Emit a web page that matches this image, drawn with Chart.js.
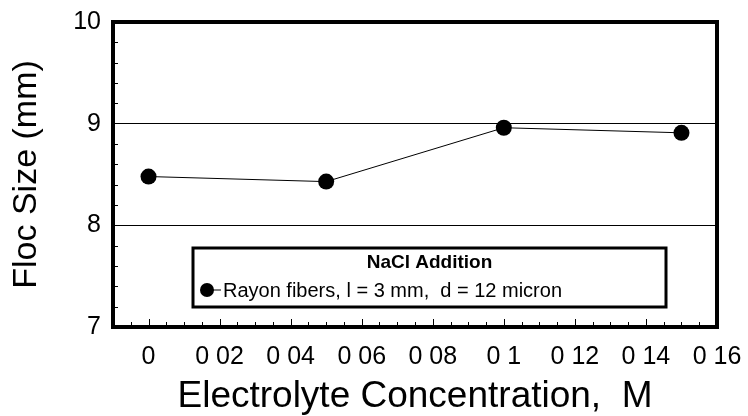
<!DOCTYPE html>
<html>
<head>
<meta charset="utf-8">
<title>Floc Size vs Electrolyte Concentration</title>
<script src="https://cdn.jsdelivr.net/npm/chart.js@4.4.1/dist/chart.umd.min.js"></script>
<style>
  html, body { margin: 0; padding: 0; background: #fff; }
  #wrap { width: 748px; height: 416px; }
</style>
</head>
<body>
<div id="wrap"><canvas id="flocChart" width="748" height="416"></canvas></div>
<script>
// Data
const concentration = [0, 0.05, 0.1, 0.15];
const flocSize = [8.48, 8.43, 8.96, 8.91];

const xTickValues = [0, 0.02, 0.04, 0.06, 0.08, 0.1, 0.12, 0.14, 0.16];
const xTickLabels = ['0', '0 02', '0 04', '0 06', '0 08', '0 1', '0 12', '0 14', '0 16'];
const yTickValues = [7, 8, 9, 10];
const yTickLabels = ['7', '8', '9', '10'];
const yGridValues = [8, 9];

const seriesLabel = 'Rayon fibers, l = 3 mm,  d = 12 micron';
const legendTitle = 'NaCl Addition';

Chart.defaults.font.family = "'Liberation Sans', Arial, Helvetica, sans-serif";
Chart.defaults.color = '#000';

/**
 * Рамка графика и короткие внутренние деления осей
 */
const frameAndTicks = {
  id: 'frameAndTicks',
  afterDatasetsDraw(chart) {
    const { ctx, chartArea: a, scales } = chart;
    const x = scales.x, y = scales.y;
    ctx.save();
    ctx.strokeStyle = '#000';

    // деления по оси X, каждые 0.005
    ctx.lineWidth = 1;
    ctx.beginPath();
    for (let i = Math.ceil(x.min / 0.005); i * 0.005 <= x.max + 1e-9; i++) {
      const px = Math.round(x.getPixelForValue(i * 0.005)) + 0.5;
      const len = (i % 4 === 0) ? 8 : 5;
      ctx.moveTo(px, a.bottom);
      ctx.lineTo(px, a.bottom - len);
    }
    // деления по оси Y, каждые 0.2
    for (let i = Math.ceil(y.min / 0.2); i * 0.2 <= y.max + 1e-9; i++) {
      if (i % 5 === 0) continue;
      const py = Math.round(y.getPixelForValue(i * 0.2)) + 0.5;
      ctx.moveTo(a.left, py);
      ctx.lineTo(a.left + 5, py);
    }
    ctx.stroke();

    ctx.lineWidth = 4;
    ctx.strokeRect(a.left, a.top, a.right - a.left, a.bottom - a.top);
    ctx.restore();
  }
};

/**
 * Легенда в рамке внутри области графика
 */
const boxedLegend = {
  id: 'boxedLegend',
  afterDraw(chart) {
    const { ctx, chartArea: a } = chart;
    const ds = chart.data.datasets[0];
    const left = a.left + 80, top = a.top + 226, w = 473, h = 59;
    ctx.save();
    ctx.fillStyle = '#fff';
    ctx.fillRect(left, top, w, h);
    ctx.strokeStyle = '#000';
    ctx.lineWidth = 3;
    ctx.strokeRect(left, top, w, h);

    ctx.fillStyle = '#000';
    ctx.textBaseline = 'middle';
    ctx.textAlign = 'center';
    ctx.font = "bold 19px 'Liberation Sans', Arial, sans-serif";
    ctx.fillText(legendTitle, left + w / 2, top + 15);

    const my = top + 42, mx = left + 14;
    ctx.lineWidth = 1;
    ctx.beginPath();
    ctx.moveTo(mx, my);
    ctx.lineTo(mx + 14, my);
    ctx.stroke();
    ctx.beginPath();
    ctx.arc(mx, my, 7, 0, Math.PI * 2);
    ctx.fill();

    ctx.textAlign = 'left';
    ctx.font = "20px 'Liberation Sans', Arial, sans-serif";
    ctx.fillText(ds.label, mx + 16, my + 1);
    ctx.restore();
  }
};

const ctx = document.getElementById('flocChart');

new Chart(ctx, {
  type: 'scatter',
  data: {
    datasets: [{
      label: seriesLabel,
      data: concentration.map((c, i) => ({ x: c, y: flocSize[i] })),
      showLine: true,
      borderColor: '#000',
      borderWidth: 1,
      pointRadius: 8,
      pointBackgroundColor: '#000',
      pointBorderColor: '#000',
      pointBorderWidth: 0
    }]
  },
  options: {
    responsive: false,
    animation: false,
    layout: { padding: { top: 22, right: 31, left: 0, bottom: 0 } },
    plugins: {
      legend: { display: false },
      tooltip: { enabled: false }
    },
    scales: {
      x: {
        type: 'linear',
        min: -0.01,
        max: 0.16,
        afterBuildTicks: s => { s.ticks = xTickValues.map(v => ({ value: v })); },
        afterFit: s => { s.height = 89; s.paddingLeft = 0; s.paddingRight = 0; },
        grid: { display: false, drawTicks: false },
        border: { display: false },
        ticks: {
          autoSkip: false,
          maxRotation: 0,
          padding: 15,
          font: { size: 25 },
          callback: (v, i) => xTickLabels[i]
        },
        title: {
          display: true,
          text: 'Electrolyte Concentration,  M',
          font: { size: 37, lineHeight: 1 },
          padding: { top: 0, bottom: 1 }
        }
      },
      y: {
        min: 7,
        max: 10,
        afterBuildTicks: s => { s.ticks = yTickValues.map(v => ({ value: v })); },
        afterFit: s => { s.width = 113; s.paddingTop = 0; s.paddingBottom = 0; },
        grid: {
          drawTicks: false,
          lineWidth: 1,
          color: c => yGridValues.includes(c.tick && c.tick.value) ? '#000' : 'rgba(0,0,0,0)'
        },
        border: { display: false },
        ticks: {
          padding: 12,
          font: { size: 25 },
          callback: (v, i) => yTickLabels[i]
        },
        title: {
          display: true,
          text: 'Floc Size (mm)',
          font: { size: 34, lineHeight: 1 },
          padding: { top: 10, bottom: 0 }
        }
      }
    }
  },
  plugins: [frameAndTicks, boxedLegend]
});
</script>
</body>
</html>
